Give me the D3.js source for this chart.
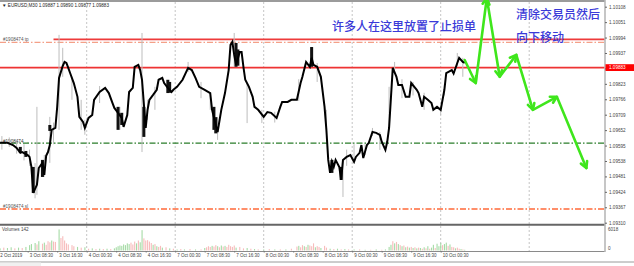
<!DOCTYPE html>
<html><head><meta charset="utf-8">
<script src="https://cdn.jsdelivr.net/npm/d3@7"></script>
<style>html,body{margin:0;padding:0;background:#fff;overflow:hidden}</style>
</head><body>
<svg id="c" width="634" height="266"></svg>
<script>
// ---- data (bar index = M30 bar counted from the left edge) ----
const closes = [[1,1.09605],[5,1.09605],[8,1.09597],[10,1.09586],[12,1.09568],[13,1.09571],[16,1.09560],[17,1.09553],[18,1.09516],[19,1.09420],[21,1.09450],[22,1.09512],[24,1.09531],[25,1.09487],[26,1.09557],[27,1.09571],[28,1.09597],[29,1.09653],[31,1.09660],[32,1.09738],[33,1.09845],[35,1.09889],[36,1.09904],[37,1.09900],[38,1.09882],[39,1.09863],[41,1.09826],[43,1.09775],[44,1.09701],[46,1.09682],[47,1.09660],[49,1.09697],[51,1.09708],[52,1.09764],[55,1.09793],[58,1.09808],[60,1.09789],[62,1.09752],[63,1.09734],[65,1.09716],[67,1.09697],[68,1.09664],[70,1.09708],[71,1.09793],[73,1.09808],[74,1.09886],[76,1.09893],[77,1.09874],[78,1.09838],[80,1.09660],[81,1.09727],[82,1.09764],[84,1.09782],[86,1.09801],[87,1.09838],[89,1.09845],[90,1.09826],[92,1.09808],[94,1.09793],[95,1.09801],[97,1.09812],[100,1.09838],[103,1.09882],[105,1.09874],[107,1.09845],[109,1.09812],[112,1.09801],[115,1.09789],[116,1.09727],[118,1.09671],[119,1.09645],[121,1.09727],[123,1.09789],[125,1.09874],[126,1.09967],[127,1.09978],[128,1.09930],[129,1.09893],[131,1.09941],[132,1.09941],[133,1.09886],[134,1.09838],[136,1.09812],[138,1.09775],[139,1.09738],[141,1.09727],[144,1.09701],[146,1.09719],[148,1.09716],[151,1.09697],[153,1.09738],[154,1.09756],[157,1.09756],[159,1.09764],[162,1.09764],[164,1.09826],[165,1.09849],[167,1.09904],[169,1.09886],[170,1.09919],[171,1.09893],[173,1.09886],[175,1.09849],[177,1.09738],[178,1.09653],[179,1.09542],[180,1.09494],[181,1.09535],[182,1.09516],[183,1.09542],[185,1.09516],[186,1.09468],[187,1.09542],[189,1.09553],[191,1.09560],[193,1.09535],[194,1.09553],[196,1.09568],[197,1.09597],[198,1.09549],[200,1.09597],[201,1.09605],[203,1.09645],[205,1.09642],[207,1.09634],[208,1.09609],[210,1.09579],[211,1.09609],[212,1.09660],[214,1.09882],[216,1.09849],[217,1.09819],[219,1.09819],[221,1.09775],[223,1.09775],[224,1.09826],[227,1.09801],[228,1.09789],[230,1.09738],[231,1.09775],[233,1.09764],[235,1.09752],[236,1.09727],[238,1.09738],[240,1.09727],[242,1.09801],[243,1.09863],[246,1.09874],[247,1.09861],[249,1.09900],[250,1.09919],[252,1.09904],[253,1.09900]];

// [bar, high, low]
const wicks = [[2,1.09630,1.09580],[6,1.09625,1.09590],[10,1.09610,1.09565],[14,1.09600,1.09540],[17,1.09580,1.09520],[20,1.09530,1.09400],[21,1.09738,1.09413],[25,1.09560,1.09480],[28,1.09701,1.09531],[30,1.09680,1.09600],[33,1.10004,1.09653],[35,1.09956,1.09849],[40,1.09849,1.09764],[45,1.09764,1.09653],[47,1.09690,1.09635],[55,1.09815,1.09752],[66,1.09738,1.09653],[78,1.10011,1.09571],[81,1.09764,1.09690],[85,1.09812,1.09727],[103,1.09904,1.09867],[110,1.09830,1.09770],[115,1.09789,1.09727],[119,1.09700,1.09616],[128,1.10011,1.09886],[135,1.09826,1.09678],[143,1.09727,1.09678],[150,1.09720,1.09680],[163,1.09840,1.09760],[170,1.09959,1.09893],[173,1.09900,1.09830],[178,1.09727,1.09653],[187,1.09542,1.09405],[189,1.09580,1.09520],[193,1.09600,1.09540],[199,1.09600,1.09560],[203,1.09660,1.09630],[207,1.09645,1.09579],[212,1.09812,1.09653],[215,1.09904,1.09874],[219,1.09840,1.09770],[225,1.09830,1.09780],[231,1.09790,1.09727],[240,1.09738,1.09708],[242,1.09820,1.09780],[249,1.09937,1.09886],[252,1.09919,1.09849]];

// [bar, open, close] for the dark candle bodies
const bodies = [[12,1.09590,1.09568],[15,1.09575,1.09553],[19,1.09516,1.09420],[24,1.09542,1.09479],[28,1.09671,1.09649],[65,1.09738,1.09653],[67,1.09716,1.09671],[79,1.09738,1.09627],[92,1.09838,1.09789],[93,1.09830,1.09790],[117,1.09738,1.09653],[118,1.09700,1.09640],[129,1.09974,1.09886],[130,1.09950,1.09890],[170,1.09959,1.09886],[181,1.09542,1.09494],[186,1.09516,1.09468]];

// [bar, volume, up(1)/down(0)]
const volumes = [[1,600,1],[3,800,0],[5,700,1],[7,900,1],[9,600,0],[11,800,1],[13,700,0],[15,1000,1],[17,1500,1],[18,1800,1],[20,2100,1],[21,1700,0],[22,2600,1],[24,1900,0],[25,2200,1],[26,1600,0],[27,2600,0],[28,2300,0],[29,2800,1],[30,2500,0],[31,2400,0],[33,5900,1],[34,3500,0],[35,4000,0],[36,2800,0],[37,2000,0],[38,1700,0],[40,1500,0],[41,1200,0],[43,1000,1],[45,800,0],[47,900,1],[49,500,0],[51,600,1],[53,400,0],[55,500,1],[57,400,0],[59,500,1],[61,400,0],[63,600,1],[64,900,1],[65,1200,1],[66,1400,1],[67,1300,1],[68,1700,1],[69,1500,1],[70,2000,1],[71,1800,1],[72,2200,0],[73,1700,0],[74,2500,0],[75,2000,1],[76,2800,0],[77,2300,1],[78,5700,1],[79,3400,0],[80,2800,0],[81,2900,0],[82,2500,0],[83,2100,0],[84,1600,1],[85,1800,0],[86,1200,1],[87,1000,0],[88,1300,0],[89,800,1],[91,900,0],[93,600,1],[95,500,0],[97,300,1],[99,400,0],[101,300,1],[104,400,0],[107,300,1],[110,300,0],[112,700,1],[113,900,0],[114,1200,0],[115,1000,0],[116,1300,1],[117,1100,0],[118,1500,0],[119,1200,1],[120,900,0],[121,1400,1],[122,1100,0],[123,1300,1],[124,1000,0],[125,1600,0],[126,1200,0],[127,1000,0],[128,1400,0],[129,800,1],[131,1000,0],[133,600,0],[135,700,1],[137,500,0],[139,400,1],[141,300,0],[144,300,1],[147,400,0],[150,300,1],[153,300,0],[156,300,1],[159,500,0],[162,1100,0],[163,1300,1],[164,900,0],[165,1500,0],[166,1200,1],[167,1000,0],[168,1600,1],[169,1400,0],[170,1200,0],[171,2000,0],[172,900,1],[173,1200,0],[174,1000,0],[175,700,1],[177,1300,0],[178,800,0],[180,500,1],[182,400,0],[184,500,1],[186,300,0],[188,400,1],[190,300,0],[193,300,1],[196,300,0],[199,200,1],[202,200,0],[205,300,1],[208,200,0],[210,300,1],[212,1000,1],[213,1600,1],[214,2600,0],[215,2000,1],[216,2400,0],[217,1800,1],[218,1500,0],[219,1200,1],[220,1400,0],[221,900,1],[222,1100,0],[223,800,1],[224,1000,0],[225,700,1],[226,900,0],[227,600,1],[228,800,0],[229,700,1],[230,500,0],[231,900,1],[232,600,0],[233,1200,1],[234,500,0],[235,800,1],[236,1600,1],[237,700,0],[238,1900,1],[239,1200,1],[240,2100,1],[241,1500,0],[242,1800,1],[243,2200,1],[244,1300,0],[245,1700,1],[246,1000,0],[247,900,0],[248,600,1],[249,800,0],[250,500,0],[251,400,1],[252,300,0],[253,200,1]];

const priceTicks = [1.10108,1.10051,1.09994,1.09937,1.09880,1.09823,1.09766,1.09709,1.09652,1.09595,1.09538,1.09481,1.09424,1.09367,1.09310];
const timeTickBars = [0,16,32,48,64,80,96,112,128,144,160,176,192,208,224,240];
const timeTickLabels = ["2 Oct 2019","3 Oct 08:30","3 Oct 16:30","4 Oct 00:30","4 Oct 08:30","4 Oct 16:30","7 Oct 00:30","7 Oct 08:30","7 Oct 16:30","8 Oct 00:30","8 Oct 08:30","8 Oct 16:30","9 Oct 00:30","9 Oct 08:30","9 Oct 16:30","10 Oct 00:30"];
const gridBars = [48,96,144,192,240,288];

const currentPrice = 1.09883;
const stopZonePrice = 1.09987;   // red solid line (stop cluster)
const stopZoneStartBar = 30;
const tpPrice = 1.09976;
const entryPrice = 1.09604;
const slPrice = 1.09361;
const orderTicket = "#1908474";
const headerText = "▼ EURUSD,M30  1.09887 1.09890 1.09877 1.09883";
const volumeMax = 6018;
const volumeLabel = "Volumes 142";

const arrowBars = [253,259,265,272,281,290,303,319];
const arrowPrices = [1.09911,1.09826,1.10140,1.09849,1.09930,1.09727,1.09775,1.09512];

const note1 = "许多人在这里放置了止损单";
const note2a = "清除交易员然后";
const note2b = "向下移动";

// ---- layout ----
const W = 634, H = 266;
const plotR = 605, mainTop = 2, mainBot = 224, volTop = 226, volBot = 251;
const svg = d3.select("#c");
const x = d3.scaleLinear().domain([0, 48]).range([-1.8, 86.7]);
const y = d3.scaleLinear().domain([1.09310, 1.10108]).range([222.7, 6.7]);
const yv = d3.scaleLinear().domain([0, volumeMax]).range([250.5, 229]);
const smallFont = "'Liberation Sans', Arial, sans-serif";

svg.append("rect").attr("width", W).attr("height", H).attr("fill", "#fff");

svg.append("clipPath").attr("id","mainClip").append("rect")
  .attr("x",0).attr("y",mainTop).attr("width",plotR).attr("height",mainBot-mainTop);
svg.append("clipPath").attr("id","volClip").append("rect")
  .attr("x",0).attr("y",volTop).attr("width",plotR).attr("height",volBot-volTop);

// vertical dotted grid
svg.append("g").selectAll("line").data(gridBars).join("line")
  .attr("x1", d => x(d)).attr("x2", d => x(d))
  .attr("y1", mainTop).attr("y2", volBot)
  .attr("stroke", "#b5b5b5").attr("stroke-width", 0.8).attr("stroke-dasharray", "2,2");

// horizontal order / level lines
const hl = svg.append("g");
function hline(price, color, width, dash, x0) {
  hl.append("line").attr("x1", x0).attr("x2", plotR)
    .attr("y1", y(price)).attr("y2", y(price))
    .attr("stroke", color).attr("stroke-width", width)
    .attr("stroke-dasharray", dash || null);
}
hline(tpPrice, "#f4a088", 1.3, "6,2,1.5,2", 0);
hline(stopZonePrice, "#ee3b3b", 1.8, null, x(stopZoneStartBar));
hline(currentPrice, "#ee3333", 1.8, null, 0);
hline(entryPrice, "#2a7d2a", 1.1, "6,2,1.5,2", 0);
hline(slPrice, "#ff6a3a", 1.5, "6,2,1.5,2", 0);

// order labels
const ol = svg.append("g").attr("font-family", smallFont).attr("font-size", 4.6).attr("fill", "#555");
ol.append("text").attr("x", 3).attr("y", y(tpPrice) - 1.5).text(orderTicket + " tp");
ol.append("text").attr("x", 3).attr("y", y(entryPrice) - 0.5).attr("fill","#333").text(orderTicket + " →");
ol.append("text").attr("x", 3).attr("y", y(slPrice) - 1).text(orderTicket + " sl");

// price pane
const pg = svg.append("g").attr("clip-path", "url(#mainClip)");
pg.append("g").selectAll("line").data(wicks).join("line")
  .attr("x1", d => x(d[0])).attr("x2", d => x(d[0]))
  .attr("y1", d => y(d[1])).attr("y2", d => y(d[2]))
  .attr("stroke", "#bdbdbd").attr("stroke-width", 1);
pg.append("g").selectAll("rect").data(bodies).join("rect")
  .attr("x", d => x(d[0]) - 1.5).attr("width", 3)
  .attr("y", d => y(Math.max(d[1], d[2])))
  .attr("height", d => Math.abs(y(d[1]) - y(d[2])))
  .attr("fill", "#111");
pg.append("path").datum(closes)
  .attr("d", d3.line().x(d => x(d[0])).y(d => y(d[1])))
  .attr("fill", "none").attr("stroke", "#000").attr("stroke-width", 2)
  .attr("stroke-linejoin", "miter");

// volume pane
const vg = svg.append("g").attr("clip-path", "url(#volClip)");
vg.selectAll("rect").data(volumes).join("rect")
  .attr("x", d => x(d[0]) - 0.5).attr("width", 1.1)
  .attr("y", d => yv(d[1])).attr("height", d => yv(0) - yv(d[1]))
  .attr("fill", d => d[2] ? "#a6dba6" : "#f7bcbc");

// frame lines
const fr = svg.append("g");
fr.append("line").attr("x1",0).attr("x2",plotR).attr("y1",1).attr("y2",1).attr("stroke","#7a7a7a").attr("stroke-width",1.5);
fr.append("line").attr("x1",0).attr("x2",plotR).attr("y1",224.8).attr("y2",224.8).attr("stroke","#666").attr("stroke-width",2);
fr.append("line").attr("x1",0).attr("x2",plotR).attr("y1",251.5).attr("y2",251.5).attr("stroke","#8a8a8a").attr("stroke-width",1);
fr.append("line").attr("x1",plotR).attr("x2",plotR).attr("y1",0).attr("y2",252).attr("stroke","#b8b8b8").attr("stroke-width",1.6);
fr.append("line").attr("x1",0).attr("x2",W).attr("y1",262).attr("y2",262).attr("stroke","#9a9a9a").attr("stroke-width",1);
fr.append("rect").attr("x",0).attr("y",262.5).attr("width",41).attr("height",4).attr("fill","#f0f0f0");

// price axis
const pa = svg.append("g").attr("transform", `translate(${plotR},0)`)
  .call(d3.axisRight(y).tickValues(priceTicks).tickSize(2).tickPadding(2).tickFormat(d3.format(".5f")));
pa.select(".domain").remove();
pa.selectAll(".tick line").attr("stroke", "#666");
pa.selectAll("text").attr("font-family", smallFont).attr("font-size", 4.6).attr("fill", "#444");

// current price label
const cpY = y(currentPrice);
svg.append("rect").attr("x", plotR + 0.5).attr("y", cpY - 3.4).attr("width", W - plotR).attr("height", 6.8).attr("fill", "#f00");
svg.append("text").attr("x", plotR + 4).attr("y", cpY).attr("dy", "0.35em")
  .attr("font-family", smallFont).attr("font-size", 4.6).attr("fill", "#fff").text(d3.format(".5f")(currentPrice));

// volume axis labels
const va = svg.append("g").attr("font-family", smallFont).attr("font-size", 4.6).attr("fill", "#444");
va.append("text").attr("x", plotR + 3).attr("y", yv(volumeMax)).attr("dy","0.35em").text(volumeMax);
va.append("text").attr("x", plotR + 3).attr("y", yv(0) - 2).attr("dy","0.35em").text("0");
svg.append("text").attr("x", 2).attr("y", 229.5).attr("dy","0.35em")
  .attr("font-family", smallFont).attr("font-size", 4.6).attr("fill", "#444").text(volumeLabel);

// time axis
const ta = svg.append("g").attr("transform", `translate(0,${volBot})`)
  .call(d3.axisBottom(x).tickValues(timeTickBars).tickSize(1.5).tickPadding(1)
    .tickFormat((d, i) => timeTickLabels[i]));
ta.select(".domain").remove();
ta.selectAll(".tick line").attr("stroke", "#777");
ta.selectAll("text").attr("font-family", smallFont).attr("font-size", 4.5).attr("fill", "#444")
  .attr("text-anchor", "start").attr("x", 1.6).attr("dy", "0.75em");

// header
svg.append("text").attr("x", 2).attr("y", 5).attr("dy","0.35em")
  .attr("font-family", smallFont).attr("font-size", 4.6).attr("fill", "#222").text(headerText);

// green arrows
const ap = arrowBars.map((b, i) => [x(b), y(arrowPrices[i])]);
const ag = svg.append("g").attr("stroke", "#3fe61c").attr("stroke-width", 2.6)
  .attr("fill", "none").attr("stroke-linecap", "round").attr("stroke-linejoin", "round");
ag.append("path").attr("d", d3.line()(ap));
for (let i = 1; i < ap.length; i++) {
  const [x0, y0] = ap[i - 1], [x1, y1] = ap[i];
  const a = Math.atan2(y1 - y0, x1 - x0), L = 7, s = 0.5;
  const h1 = [x1 - L * Math.cos(a - s), y1 - L * Math.sin(a - s)];
  const h2 = [x1 - L * Math.cos(a + s), y1 - L * Math.sin(a + s)];
  ag.append("path").attr("d", d3.line()([h1, [x1, y1], h2]));
}

// annotations
const tf = "'Noto Sans CJK SC', sans-serif";
const notes = svg.append("g").attr("font-family", tf).attr("font-size", 12)
  .attr("font-weight", 500).attr("fill", "#3a3ad8");
notes.append("text").attr("x", 332).attr("y", 31).text(note1);
notes.append("text").attr("x", 516).attr("y", 19).text(note2a);
notes.append("text").attr("x", 516).attr("y", 42).text(note2b);
</script>
</body></html>
